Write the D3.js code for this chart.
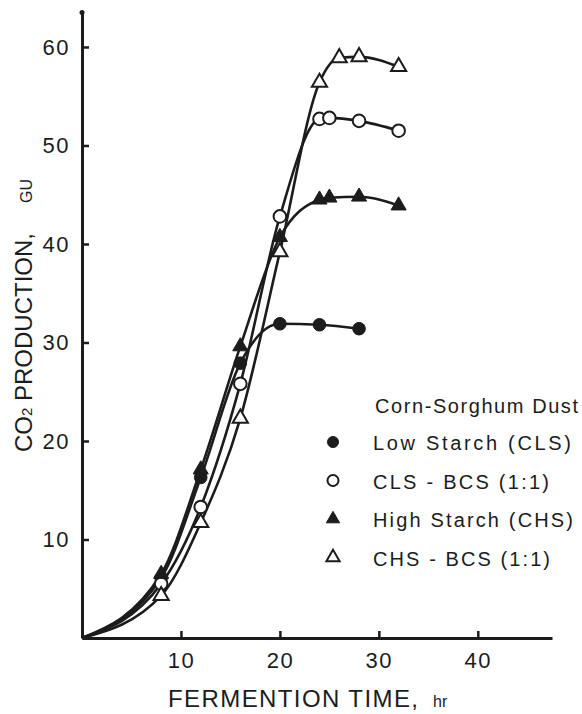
<!DOCTYPE html>
<html>
<head>
<meta charset="utf-8">
<script src="https://cdn.jsdelivr.net/npm/d3@7"></script>
<style>
  body { margin: 0; background: #fff; }
  text { font-family: "Liberation Sans", Arial, sans-serif; fill: #1c1c1c; }
</style>
</head>
<body>
<div></div>
<script>
// fermentation time (hr) and CO2 production (GU)
var clsTime = [8, 12, 16, 20, 24, 28];
var clsCO2 = [6.1, 16.3, 27.9, 31.9, 31.8, 31.4];

var clsBcsTime = [8, 12, 16, 20, 24, 25, 28, 32];
var clsBcsCO2 = [5.5, 13.3, 25.8, 42.8, 52.7, 52.8, 52.5, 51.5];

var chsTime = [8, 12, 16, 20, 24, 25, 28, 32];
var chsCO2 = [6.5, 17.1, 29.6, 40.7, 44.5, 44.7, 44.8, 43.9];

var chsBcsTime = [8, 12, 16, 20, 24, 26, 28, 32];
var chsBcsCO2 = [4.3, 11.7, 22.3, 39.2, 56.4, 58.9, 59.0, 58.0];

var seriesNames = ["Low Starch (CLS)", "CLS - BCS (1:1)", "High Starch (CHS)", "CHS - BCS (1:1)"];
var legendTitle = "Corn-Sorghum Dust";
var xTicks = [10, 20, 30, 40];
var yTicks = [10, 20, 30, 40, 50, 60];

var series = [
  { name: seriesNames[0], t: clsTime, v: clsCO2, shape: "circle", filled: true },
  { name: seriesNames[1], t: clsBcsTime, v: clsBcsCO2, shape: "circle", filled: false },
  { name: seriesNames[2], t: chsTime, v: chsCO2, shape: "triangle", filled: true },
  { name: seriesNames[3], t: chsBcsTime, v: chsBcsCO2, shape: "triangle", filled: false }
];

var ink = "#1c1c1c";
var svg = d3.select("div").append("svg").attr("width", 582).attr("height", 714);

var x = d3.scaleLinear().domain([0, 47.5]).range([82, 552]);
var y = d3.scaleLinear().domain([0, 63.5]).range([638, 12.5]);

// axes
var xAxis = svg.append("g").attr("transform", "translate(0," + y(0) + ")")
  .call(d3.axisBottom(x).tickValues(xTicks).tickSizeInner(-7).tickSizeOuter(0).tickPadding(14));
var yAxis = svg.append("g").attr("transform", "translate(" + x(0) + ",0)")
  .call(d3.axisLeft(y).tickValues(yTicks).tickSizeInner(-7).tickSizeOuter(0).tickPadding(12));

[xAxis, yAxis].forEach(function(g) {
  g.select(".domain").attr("stroke", ink).attr("stroke-width", 3);
  g.selectAll(".tick line").attr("stroke", ink).attr("stroke-width", 2.5);
  g.selectAll(".tick text").attr("font-size", 22).attr("fill", ink)
    .style("font-family", "Liberation Sans, Arial, sans-serif").style("letter-spacing", "1.5px");
});
svg.append("circle").attr("cx", x(0)).attr("cy", y(63.5)).attr("r", 2.5).attr("fill", ink);

// axis titles
var xt = svg.append("text").attr("x", 168).attr("y", 707).attr("font-size", 24);
xt.append("tspan").text("FERMENTION TIME,").attr("textLength", 250).attr("lengthAdjust", "spacing");
svg.append("text").attr("x", 433).attr("y", 707).attr("font-size", 16).text("hr");

var yt = svg.append("text").attr("transform", "translate(32,452) rotate(-90)").attr("font-size", 24);
yt.append("tspan").text("CO");
yt.append("tspan").attr("font-size", 15).text("2");
yt.append("tspan").text(" PRODUCTION,");
svg.append("text").attr("transform", "translate(32,203) rotate(-90)").attr("font-size", 16).text("GU");

// curves
var line = d3.line()
  .x(function(d) { return x(d[0]); })
  .y(function(d) { return y(d[1]); })
  .curve(d3.curveMonotoneX);

series.forEach(function(s) {
  var pts = [[0, 0]].concat(s.t.map(function(t, i) { return [t, s.v[i]]; }));
  svg.append("path").attr("d", line(pts))
    .attr("fill", "none").attr("stroke", ink).attr("stroke-width", 2.6);
});

function marker(g, shape, filled, size) {
  var m;
  if (shape === "circle") {
    m = g.append("circle").attr("r", size);
  } else {
    var h = size * 1.9;
    m = g.append("path").attr("d", d3.symbol().type(d3.symbolTriangle).size(h * h * 0.43)());
  }
  m.attr("fill", filled ? ink : "#fff").attr("stroke", ink).attr("stroke-width", filled ? 1 : 2);
  return m;
}

series.forEach(function(s) {
  s.t.forEach(function(t, i) {
    var g = svg.append("g").attr("transform", "translate(" + x(t) + "," + y(s.v[i]) + ")");
    marker(g, s.shape, s.filled, s.shape === "circle" ? 6.3 : 8);
  });
});

// legend
var legendLen = [198, 176, 200, 177];
svg.append("text").attr("x", 375).attr("y", 413).attr("font-size", 20)
  .attr("textLength", 203).attr("lengthAdjust", "spacing").text(legendTitle);

series.forEach(function(s, i) {
  var base = 450 + i * 38.5;
  var g = svg.append("g").attr("transform", "translate(333," + (base - 8) + ")");
  marker(g, s.shape, s.filled, s.shape === "circle" ? 5.5 : 7);
  svg.append("text").attr("x", 373).attr("y", base).attr("font-size", 20)
    .attr("textLength", legendLen[i]).attr("lengthAdjust", "spacing").text(s.name);
});
</script>
</body>
</html>
